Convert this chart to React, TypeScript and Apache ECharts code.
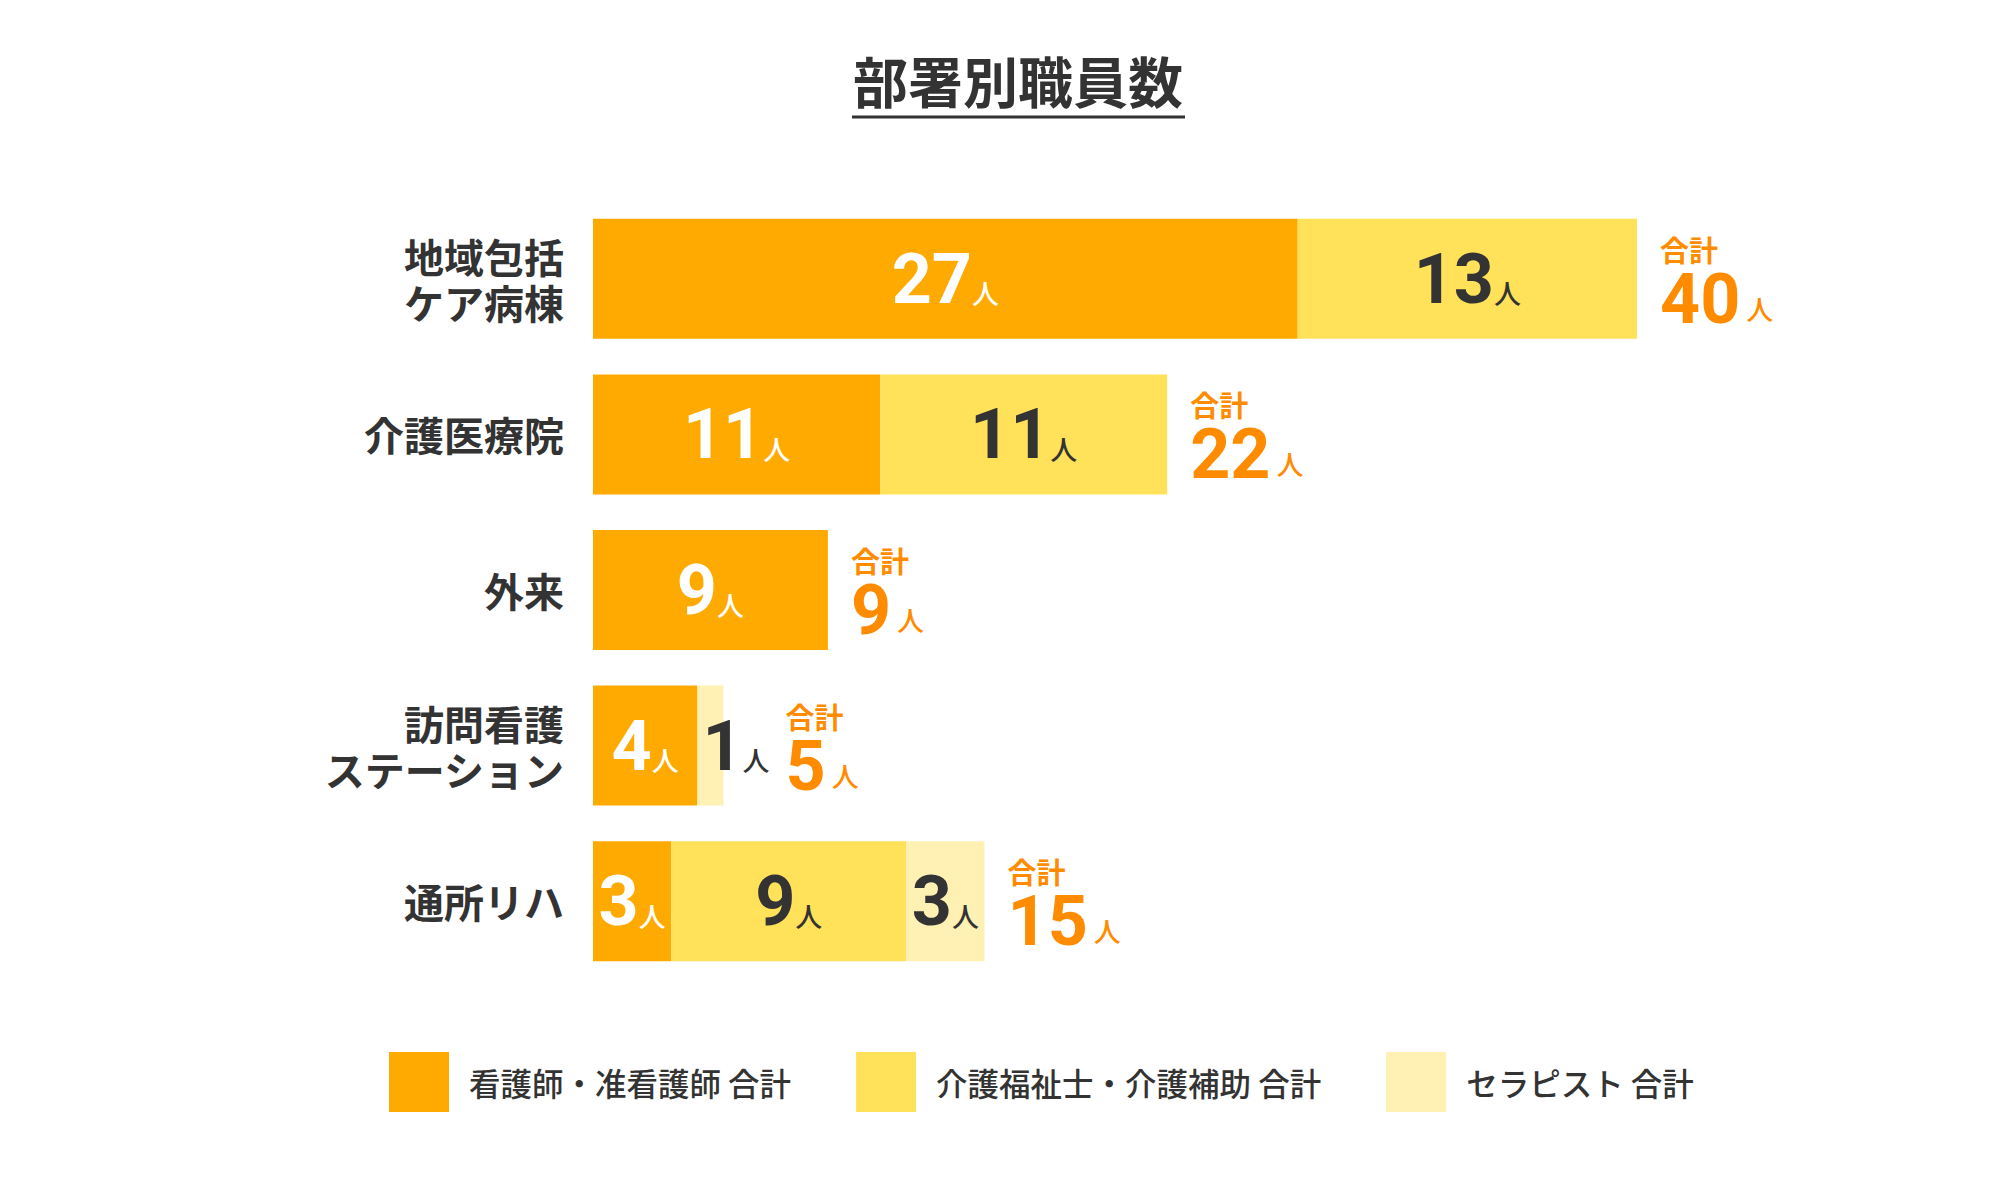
import React, { useEffect, useRef } from 'react';
import * as echarts from 'echarts';

// ---- data ----
const categories = ['地域包括\nケア病棟', '介護医療院', '外来', '訪問看護\nステーション', '通所リハ'];
const nurses = [27, 11, 9, 4, 3];
const careWorkers = [13, 11, 0, 0, 9];
const therapists = [0, 0, 0, 1, 3];
const totals = [40, 22, 9, 5, 15];
const seriesNames = ['看護師・准看護師 合計', '介護福祉士・介護補助 合計', 'セラピスト 合計'];
const titleText = '部署別職員数';
const unitText = '人';
const totalWord = '合計';

// ---- styles ----
const COLORS = ['#FFAA00', '#FFE15A', '#FFF0B3'];
const LABEL_COLORS = ['#FFFFFF', '#333333', '#333333'];
const TOTAL_COLOR = '#FF8C00';
const DARK = '#333333';
const JP = '"Noto Sans CJK JP", "Noto Sans", sans-serif';
const NUM = 'Roboto, "Noto Sans CJK JP", sans-serif';

function innerLabel(color: string) {
  return {
    show: true,
    position: 'inside',
    formatter: (p: any) => (p.value ? `{n|${p.value}}{u|${unitText}}` : ''),
    rich: {
      n: { fontFamily: NUM, fontWeight: 'bold', fontSize: 70, lineHeight: 70, color },
      u: { fontFamily: JP, fontWeight: 500, fontSize: 27, color, padding: [28, 0, 0, 0] },
    },
  };
}

function segData(values: number[]) {
  return values.map((v) => {
    if (!v) return '-';
    if (v <= 1) return { value: v, label: { position: 'insideLeft', distance: 5 } };
    return v;
  });
}

export default function App() {
  const ref = useRef<HTMLDivElement>(null);
  useEffect(() => {
    if (!ref.current) return;
    const chart = echarts.init(ref.current, null, { renderer: 'svg' });
    const stacks = [nurses, careWorkers, therapists];
    const series: any[] = stacks.map((vals, i) => ({
      name: seriesNames[i],
      type: 'bar',
      stack: 'staff',
      barWidth: 120,
      data: segData(vals),
      itemStyle: { color: COLORS[i] },
      label: innerLabel(LABEL_COLORS[i]),
      emphasis: { disabled: true },
    }));
    series.push({
      name: 'total',
      type: 'bar',
      barWidth: 120,
      barGap: '-100%',
      silent: true,
      itemStyle: { color: 'rgba(0,0,0,0)' },
      data: totals.map((t, i) =>
        therapists[i] === 1 ? { value: t, label: { offset: [39, 0] } } : t
      ),
      label: {
        show: true,
        position: 'right',
        distance: 23,
        formatter: (p: any) => `{t|${totalWord}}\n{n|${p.value}}{u|${unitText}}`,
        rich: {
          t: { fontFamily: JP, fontWeight: 'bold', fontSize: 29, lineHeight: 40, color: TOTAL_COLOR },
          n: { fontFamily: NUM, fontWeight: 'bold', fontSize: 70, lineHeight: 60, color: TOTAL_COLOR },
          u: { fontFamily: JP, fontWeight: 500, fontSize: 27, color: TOTAL_COLOR, padding: [19, 0, 0, 6] },
        },
      },
    });

    chart.setOption({
      animation: false,
      backgroundColor: '#FFFFFF',
      graphic: [
        {
          type: 'text',
          x: 1018,
          y: 79,
          style: {
            text: titleText,
            fontFamily: JP,
            fontWeight: 'bold',
            fontSize: 55,
            fill: DARK,
            textAlign: 'center',
            textVerticalAlign: 'middle',
          },
        },
        {
          type: 'line',
          shape: { x1: 852, y1: 117, x2: 1185, y2: 117 },
          style: { stroke: DARK, lineWidth: 3 },
        },
      ],
      legend: {
        data: seriesNames,
        left: 384,
        top: 1047,
        itemWidth: 60,
        itemHeight: 60,
        itemGap: 65,
        icon: 'rect',
        selectedMode: false,
        textStyle: { fontFamily: JP, fontWeight: 500, fontSize: 31.5, color: DARK, padding: [0, 0, 0, 15] },
      },
      grid: { left: 593, top: 201, width: 1305, height: 778 },
      xAxis: { type: 'value', min: 0, max: 50, show: false },
      yAxis: {
        type: 'category',
        data: categories,
        inverse: true,
        axisLine: { show: false },
        axisTick: { show: false },
        splitLine: { show: false },
        axisLabel: {
          fontFamily: JP,
          fontWeight: 'bold',
          fontSize: 40,
          lineHeight: 46,
          color: DARK,
          margin: 29,
        },
      },
      series,
    });
    return () => chart.dispose();
  }, []);
  return (
    <div
      ref={ref}
      style={{ position: 'absolute', left: 0, top: 0, width: 2000, height: 1200, background: '#fff' }}
    />
  );
}
